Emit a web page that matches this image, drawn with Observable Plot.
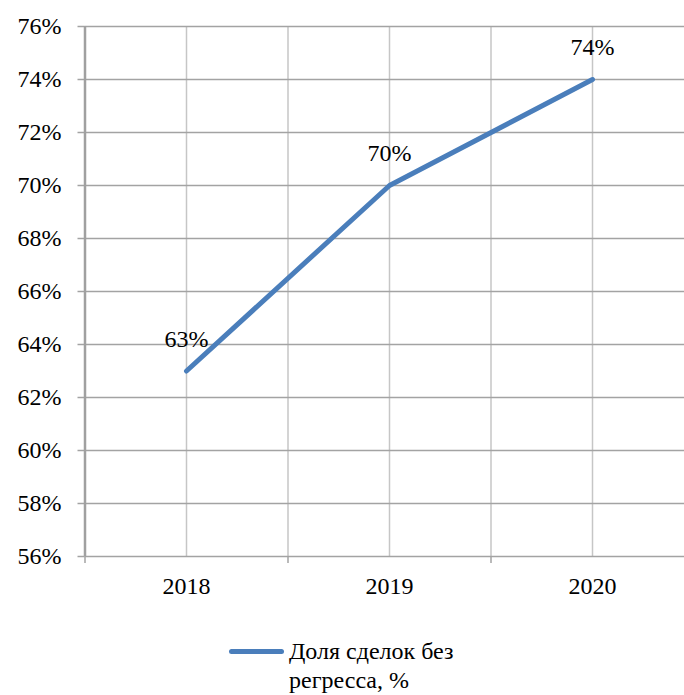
<!DOCTYPE html>
<html><head><meta charset="utf-8">
<script src="https://cdn.jsdelivr.net/npm/d3@7"></script>
<script src="https://cdn.jsdelivr.net/npm/@observablehq/plot@0.6"></script>
<style>
body{margin:0;background:#fff;font-family:"Times New Roman","Liberation Serif",Tinos,"DejaVu Serif",serif;}
#wrap{position:relative;width:684px;height:695px;overflow:hidden;}
#wrap svg text{font-family:"Times New Roman","Liberation Serif",Tinos,"DejaVu Serif",serif;}
#legend{position:absolute;left:229px;top:637px;display:flex;align-items:flex-start;font-size:24px;line-height:29px;color:#000;}
#legend .swatch{width:55px;height:5px;border-radius:3px;background:#4a7ebb;margin-top:12px;margin-right:5px;flex:none;}
#legend .label{width:200px;}
</style></head><body><div id="wrap"></div>
<script>
const years = [2018, 2019, 2020];
const shares = [63, 70, 74];
const yTicks = [56, 58, 60, 62, 64, 66, 68, 70, 72, 74, 76];
const xLightGrid = [2018, 2018.5, 2019, 2019.5, 2020];
const xBoundaryTicks = [2017.5, 2018.5, 2019.5];
const seriesName = "Доля сделок без регресса, %";

const data = years.map((year, i) => ({year, share: shares[i]}));

const chart = Plot.plot({
  width: 684,
  height: 615,
  marginTop: 26,
  marginBottom: 59,
  marginLeft: 84.5,
  marginRight: 0,
  style: {fontSize: "24px", color: "#000", background: "#fff", overflow: "hidden"},
  x: {type: "linear", domain: [2017.5, 2020.5], range: [84.5, 693.5]},
  y: {domain: [56, 76]},
  marks: [
    Plot.ruleX(xLightGrid, {stroke: "#c6c6c6", strokeWidth: 1.5}),
    Plot.gridY(yTicks, {stroke: "#a3a3a3", strokeOpacity: 1, strokeWidth: 1.5}),
    Plot.axisY({ticks: yTicks, tickSize: 7, tickPadding: 16.5, stroke: "#a3a3a3", strokeWidth: 1.5, tickFormat: d => d + "%", label: null}),
    Plot.axisX({ticks: xBoundaryTicks, tickSize: 7, stroke: "#a3a3a3", strokeWidth: 1.5, tickFormat: () => "", label: null}),
    Plot.axisX({ticks: years, tickSize: 0, tickPadding: 20, tickFormat: d => String(d), label: null}),
    Plot.ruleX([2017.5], {stroke: "#a0a0a0", strokeWidth: 2.5}),
    Plot.line(data, {x: "year", y: "share", stroke: "#4a7ebb", strokeWidth: 5, strokeLinecap: "round", strokeLinejoin: "round"}),
    Plot.text(data, {x: "year", y: "share", text: d => d.share + "%", dy: -32, fontSize: 24, fill: "#000"})
  ]
});

const wrap = document.getElementById("wrap");
wrap.appendChild(chart);
const legend = document.createElement("div");
legend.id = "legend";
legend.innerHTML = '<div class="swatch"></div><div class="label"></div>';
legend.querySelector(".label").textContent = seriesName;
wrap.appendChild(legend);
</script>
</body></html>
